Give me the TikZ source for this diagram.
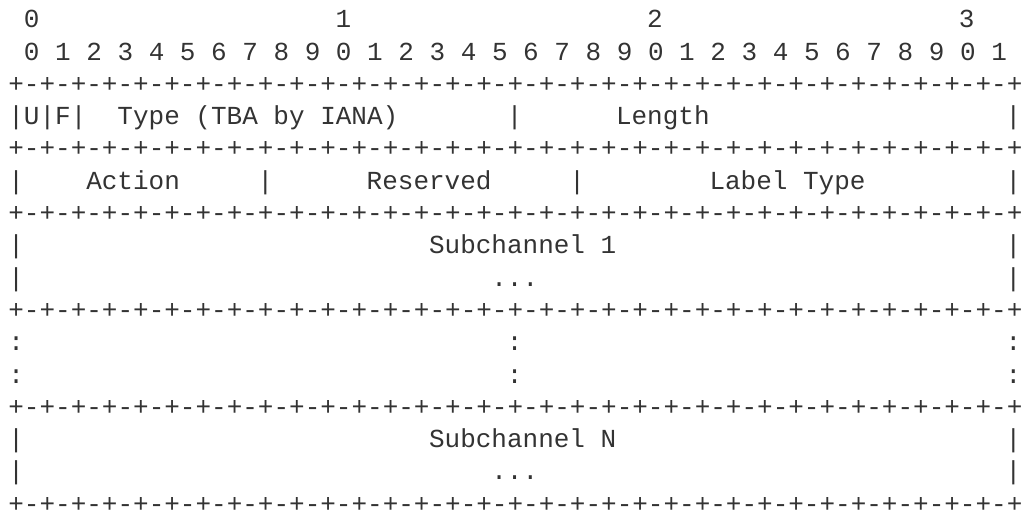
\documentclass[tikz,border=0pt]{standalone}
\usepackage{fontspec}
\setmonofont{Liberation Mono}
\usepackage{tikz}
\definecolor{asciigray}{HTML}{333333}

\begin{document}
\begin{tikzpicture}[x=15.58pt, y=-32.3pt,
  every node/.style={anchor=base west, inner sep=0pt, text=asciigray,
    font=\ttfamily\fontsize{26}{26}\selectfont}]

\useasboundingbox (-0.526,0.142) rectangle (65.135,16.056);

% bit numbers
\node (tens0) at (1,1) {0};
\node (tens1) at (21,1) {1};
\node (tens2) at (41,1) {2};
\node (tens3) at (61,1) {3};
\node (bits) at (1,2) {0 1 2 3 4 5 6 7 8 9 0 1 2 3 4 5 6 7 8 9 0 1 2 3 4 5 6 7 8 9 0 1};

% border lines
\foreach \r in {3,5,7,10,13,16}
  \node (border\r) at (0,\r) {+-+-+-+-+-+-+-+-+-+-+-+-+-+-+-+-+-+-+-+-+-+-+-+-+-+-+-+-+-+-+-+-+};

% first word
\node (barUF) at (0,4) {|U|F|};
\node (type) at (7,4) {Type (TBA by IANA)};
\node (barType) at (32,4) {|};
\node (length) at (39,4) {Length};
\node (barLength) at (64,4) {|};

% second word
\node (barA) at (0,6) {|};
\node (action) at (5,6) {Action};
\node (barAction) at (16,6) {|};
\node (reserved) at (23,6) {Reserved};
\node (barReserved) at (36,6) {|};
\node (labeltype) at (45,6) {Label Type};
\node (barLabel) at (64,6) {|};

% subchannel 1
\node (barS1a) at (0,8) {|};
\node (sub1) at (27,8) {Subchannel 1};
\node (barS1b) at (64,8) {|};
\node (barS1c) at (0,9) {|};
\node (dots1) at (31,9) {...};
\node (barS1d) at (64,9) {|};

% gap
\foreach \r in {11,12} {
  \node (gapL\r) at (0,\r) {:};
  \node (gapM\r) at (32,\r) {:};
  \node (gapR\r) at (64,\r) {:};
}

% subchannel N
\node (barSNa) at (0,14) {|};
\node (subN) at (27,14) {Subchannel N};
\node (barSNb) at (64,14) {|};
\node (barSNc) at (0,15) {|};
\node (dotsN) at (31,15) {...};
\node (barSNd) at (64,15) {|};

\end{tikzpicture}
\end{document}
